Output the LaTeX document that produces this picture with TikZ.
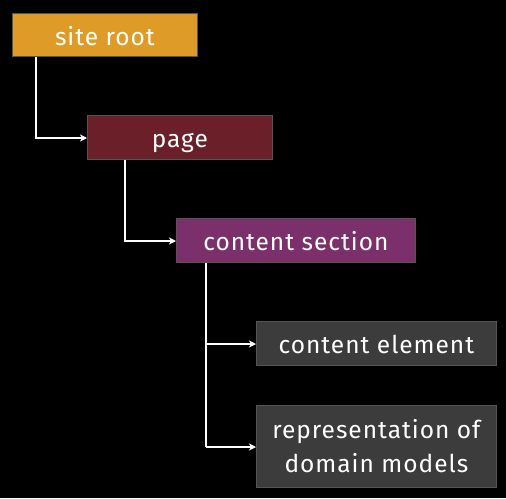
\documentclass[tikz,border=0pt]{standalone}
\usepackage{fontspec}
\setmainfont{Fira Sans}[LetterSpace=4]
\usetikzlibrary{arrows.meta}
\definecolor{cOrange}{HTML}{DE9B27}
\definecolor{cRed}{HTML}{6B1F28}
\definecolor{cPurple}{HTML}{7B2F6B}
\definecolor{cGray}{HTML}{3C3C3C}
\definecolor{cBorder}{HTML}{555555}
\tikzset{
  box/.style={draw=cBorder, line width=0.8pt, text=white, font=\fontsize{24.5}{29}\selectfont, inner sep=0pt, anchor=north west, align=center},
  oneline/.style={box, text height=21pt, text depth=0pt},
  conn/.style={draw=white, line width=1.4pt, -{Stealth[length=7pt,width=7pt,inset=2pt]}},
  line/.style={draw=white, line width=1.4pt}
}
\begin{document}
\begin{tikzpicture}[x=1pt,y=-1pt]
\fill[black] (0,0) rectangle (506,498);
\useasboundingbox (0,0) rectangle (506,498);
\node[oneline, fill=cOrange, minimum width=185pt, minimum height=43pt] (root) at (12,13) {site root};
\node[oneline, fill=cRed, minimum width=185pt, minimum height=44pt] (page) at (87,115) {page};
\node[oneline, fill=cPurple, minimum width=239pt, minimum height=44pt] (sec) at (176,218) {content section};
\node[oneline, fill=cGray, minimum width=240pt, minimum height=44pt] (elem) at (256,321) {content element};
\node[box, fill=cGray, minimum width=240pt, minimum height=82pt, font=\fontsize{24.5}{34}\selectfont] (repr) at (256,405) {representation of\\domain models};
\coordinate (r1) at (36,138);
\coordinate (p1) at (125,241);
\coordinate (s1) at (206,344);
\coordinate (s2) at (206,447);
\draw[conn] (root.south west -| r1) -- (r1) -- (page.west |- r1);
\draw[conn] (page.south west -| p1) -- (p1) -- (sec.west |- p1);
\draw[line] (sec.south west -| s1) -- (s2);
\draw[conn] (s1) -- (elem.west |- s1);
\draw[conn] (s2) -- (repr.west |- s2);
\end{tikzpicture}
\end{document}
